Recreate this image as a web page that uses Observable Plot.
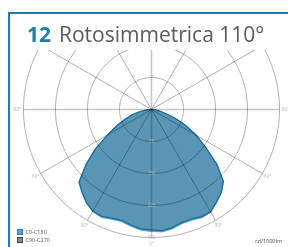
<!DOCTYPE html>
<html><head><meta charset="utf-8">
<script src="https://cdn.jsdelivr.net/npm/d3@7"></script>
<script src="https://cdn.jsdelivr.net/npm/@observablehq/plot@0.6"></script>
<style>
html,body{margin:0;padding:0;background:#fff;width:288px;height:247px;overflow:hidden;font-family:"Open Sans",sans-serif;}
#card{position:absolute;left:8px;top:12px;width:290px;height:240px;border-left:2px solid #1a7fad;border-top:2px solid #1a7fad;}
#title{position:absolute;left:27px;top:20px;font-size:21px;line-height:28px;color:#5a5a5a;white-space:nowrap;}
#title b{color:#1a7fad;font-weight:700;margin-right:8px;}
#chart{position:absolute;left:0;top:50px;width:288px;height:197px;overflow:hidden;}
.leg{position:absolute;left:17px;font-size:5.5px;color:#555;line-height:6px;white-space:nowrap;}
.leg i{display:inline-block;width:4px;height:4px;border:0.8px solid;vertical-align:top;margin-right:2.5px;}
#unit{position:absolute;right:6px;top:237px;font-size:5.5px;color:#444;}
</style></head>
<body>
<div id="card"></div>
<div id="title"><b>12</b>Rotosimmetrica 110°</div>
<div id="chart"></div>
<div class="leg" style="top:229px"><i style="background:#50a5d2;border-color:#2a7fb0"></i>C0-C180</div>
<div class="leg" style="top:237px"><i style="background:#8a8a8a;border-color:#444"></i>C90-C270</div>
<div id="unit">cd/1000lm</div>
<script>
// gamma angles (degrees from nadir)
const gamma = [0,5,10,15,20,25,30,35,40,45,50,55,60,65,70,75,80,85,90];
// intensities cd/1000lm
const c0   = [286,288,284,277,276,280,278,266,255,239,201,156,123,89,58,31,19,8,0];
const c180 = [286,284,278,272,274,279,276,267,254,241,201,161,119,91,66,48,28,12,0];
const c90  = [282,285,281,274,273,277,277,265,254,238,200,155,122,88,57,30,18,7,0];
const c270 = [282,281,275,269,271,276,275,266,253,240,200,160,118,90,65,47,27,11,0];
// grid
const rings = [75,150,225,300];
const spokeAngles = [30,60,120,150,210,240,300,330];
const axisAngles = [0,90,180,270];
const angleLabels = [-90,-60,-30,0,30,60,90];

const W = 288, H = 197, cx = 151, cy = 59, outerPx = 128;
const k = 300 / outerPx;
const rad = d => d * Math.PI / 180;
const px = (v, a) => v * Math.sin(rad(a));
const py = (v, a) => -v * Math.cos(rad(a));

function loop(left, right) {
  const pts = [];
  for (let i = gamma.length - 1; i >= 0; i--) pts.push({x: px(left[i], -gamma[i]), y: py(left[i], -gamma[i])});
  for (let i = 1; i < gamma.length; i++) pts.push({x: px(right[i], gamma[i]), y: py(right[i], gamma[i])});
  return pts;
}
const curveA = loop(c180, c0);
const curveB = loop(c270, c90);
const ringPts = rings.flatMap(v => d3.range(0, 361, 2).map(a => ({ring: v, a})));
// ring labels along nadir, plus the first ring upwards (others fall outside the view)
const ringLabels = rings.map(v => ({v, a: 0})).concat([{v: rings[0], a: 180}]);

const chart = Plot.plot({
  width: W, height: H, margin: 0,
  x: {domain: [-cx * k, (W - cx) * k], axis: null},
  y: {domain: [-(H - cy) * k, cy * k], axis: null},
  style: {background: "transparent", overflow: "hidden"},
  marks: [
    Plot.line(curveA, {x: "x", y: "y", curve: "linear-closed", fill: "#50a5d2", stroke: "#3d98cc", strokeWidth: 0.8}),
    Plot.line(curveB, {x: "x", y: "y", curve: "linear-closed", fill: "#707070", fillOpacity: 0.3, stroke: "#1a6a98", strokeWidth: 1.2}),
    Plot.line(ringPts, {x: d => px(d.ring, d.a), y: d => py(d.ring, d.a), z: "ring", stroke: "#a6a6a6", strokeWidth: 0.9, mixBlendMode: "multiply"}),
    Plot.link(spokeAngles, {x1: () => 0, y1: () => 0, x2: a => px(300, a), y2: a => py(300, a), stroke: "#a6a6a6", strokeWidth: 0.9, mixBlendMode: "multiply"}),
    Plot.link(axisAngles, {x1: () => 0, y1: () => 0, x2: a => px(300, a), y2: a => py(300, a), stroke: "#c8c8c8", strokeWidth: 1.6, mixBlendMode: "multiply"}),
    Plot.text(ringLabels, {x: d => px(d.v, d.a), y: d => py(d.v, d.a), text: d => String(d.v), fill: "#bdbdbd", fontSize: 4.5, fontFamily: "Open Sans"}),
    Plot.text(angleLabels, {x: a => px(314, a), y: a => py(314, a), text: a => Math.abs(a) + "°", fill: "#b0b0b0", fontSize: 5, fontFamily: "Open Sans"})
  ]
});
document.getElementById("chart").appendChild(chart);
</script>
</body></html>
